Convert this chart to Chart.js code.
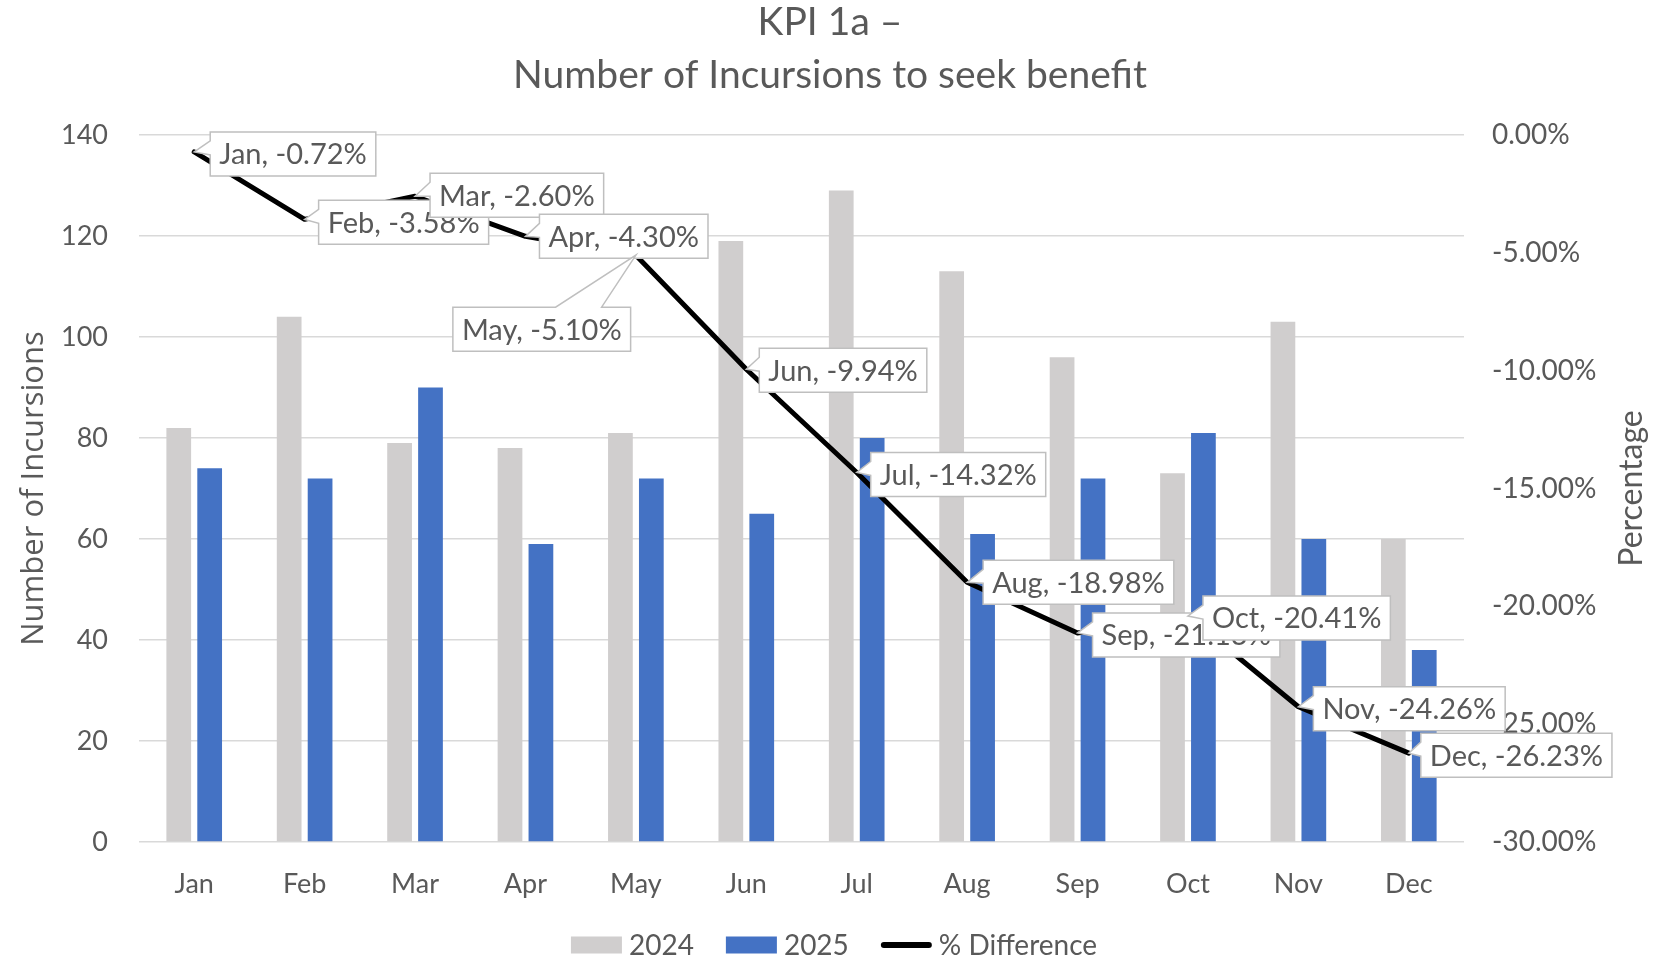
<!DOCTYPE html>
<html>
<head>
<meta charset="utf-8">
<script src="https://cdn.jsdelivr.net/npm/chart.js@4.4.1/dist/chart.umd.min.js"></script>
<style>
  html, body { margin: 0; padding: 0; background: #ffffff; }
  #wrap { width: 1675px; height: 960px; position: relative; }
  canvas { display: block; }
</style>
</head>
<body>
<div id="wrap"><canvas id="chart" width="1675" height="960"></canvas></div>
<script>
// ---------- DATA ----------
const months = ['Jan', 'Feb', 'Mar', 'Apr', 'May', 'Jun', 'Jul', 'Aug', 'Sep', 'Oct', 'Nov', 'Dec'];
const incursions2024 = [82, 104, 79, 78, 81, 119, 129, 113, 96, 73, 103, 60];
const incursions2025 = [74, 72, 90, 59, 72, 65, 80, 61, 72, 81, 60, 38];
const pctDifference = [-0.72, -3.58, -2.60, -4.30, -5.10, -9.94, -14.32, -18.98, -21.13, -20.41, -24.26, -26.23];
const leftAxisRange = [0, 140, 20];     // min, max, step
const rightAxisRange = [-30, 0, 5];     // min, max, step
const titleLines = ['KPI 1a \u2013', 'Number of Incursions to seek benefit'];
const seriesNames = ['2024', '2025', '% Difference'];
const leftAxisTitle = 'Number of Incursions';
const rightAxisTitle = 'Percentage';

// ---------- STYLE ----------
const TEXT = '#595959';
const GRID = '#d9d9d9';
const GREY = '#D0CECE';
const BLUE = '#4472C4';
const FONT = 'Lato';
// callout placement relative to the data point (side the pointer leaves from)
const labelPlacement = [
  {side: 'left', dx: 16, dy: 2}, {side: 'left', dx: 14, dy: 3}, {side: 'left', dx: 15, dy: -1},
  {side: 'left', dx: 14, dy: 0}, {side: 'top', dx: -183, dy: 74}, {side: 'left', dx: 13, dy: 1},
  {side: 'left', dx: 14, dy: 2}, {side: 'left', dx: 16, dy: 0}, {side: 'left', dx: 15, dy: 2},
  {side: 'left', dx: 15, dy: 2}, {side: 'left', dx: 15, dy: 2}, {side: 'left', dx: 12, dy: 2}
];

const decorPlugin = {
  id: 'decor',
  afterDatasetsDraw(chart) {
    const ctx = chart.ctx;
    const meta = chart.getDatasetMeta(2);
    ctx.save();
    ctx.font = '29px ' + FONT;
    const padX = 9, h = 44;
    meta.data.forEach((pt, i) => {
      const text = months[i] + ', ' + pctDifference[i].toFixed(2) + '%';
      const w = ctx.measureText(text).width + 2 * padX;
      const pl = labelPlacement[i];
      const left = pt.x + pl.dx;
      const top = pt.y + pl.dy - h / 2;
      ctx.beginPath();
      if (pl.side === 'left') {
        ctx.moveTo(left, top);
        ctx.lineTo(left + w, top);
        ctx.lineTo(left + w, top + h);
        ctx.lineTo(left, top + h);
        ctx.lineTo(left, top + h / 2 + 1);
        ctx.lineTo(pt.x, pt.y);
        ctx.lineTo(left, top + h / 2 - 13);
        ctx.closePath();
      } else {
        ctx.moveTo(left, top);
        ctx.lineTo(left + w - 75, top);
        ctx.lineTo(pt.x, pt.y);
        ctx.lineTo(left + w - 29, top);
        ctx.lineTo(left + w, top);
        ctx.lineTo(left + w, top + h);
        ctx.lineTo(left, top + h);
        ctx.closePath();
      }
      ctx.fillStyle = '#ffffff';
      ctx.fill();
      ctx.strokeStyle = '#bfbfbf';
      ctx.lineWidth = 1.5;
      ctx.stroke();
      ctx.fillStyle = TEXT;
      ctx.textBaseline = 'middle';
      ctx.textAlign = 'left';
      ctx.fillText(text, left + padX, top + h / 2 + 1);
    });
    ctx.restore();
  },
  afterDraw(chart) {
    const ctx = chart.ctx;
    const area = chart.chartArea;
    const cy = (area.top + area.bottom) / 2;
    ctx.save();
    ctx.fillStyle = TEXT;
    ctx.textAlign = 'center';
    ctx.textBaseline = 'middle';
    // title
    ctx.font = '39px ' + FONT;
    ctx.fillText(titleLines[0], 830, 22);
    ctx.fillText(titleLines[1], 830, 75);
    // axis titles
    ctx.save();
    ctx.font = '31px "Open Sans"';
    ctx.translate(34, cy);
    ctx.rotate(-Math.PI / 2);
    ctx.fillText(leftAxisTitle, 0, 0);
    ctx.restore();
    ctx.save();
    ctx.font = '32px ' + FONT;
    ctx.translate(1632, cy);
    ctx.rotate(-Math.PI / 2);
    ctx.fillText(rightAxisTitle, 0, 0);
    ctx.restore();
    // legend
    ctx.font = '28px ' + FONT;
    ctx.textAlign = 'left';
    const boxW = 51, boxH = 17, gapT = 7, gapItem = 32, ly = 945;
    const widths = seriesNames.map(s => ctx.measureText(s).width);
    const total = widths.reduce((a, b) => a + b, 0) + 3 * (boxW + gapT) + 2 * gapItem;
    let x = 834 - total / 2;
    const colors = [GREY, BLUE, '#000000'];
    seriesNames.forEach((s, i) => {
      if (i < 2) {
        ctx.fillStyle = colors[i];
        ctx.fillRect(x, ly - boxH / 2, boxW, boxH);
      } else {
        ctx.strokeStyle = '#000000';
        ctx.lineWidth = 6;
        ctx.lineCap = 'round';
        ctx.beginPath();
        ctx.moveTo(x + 3, ly);
        ctx.lineTo(x + boxW - 3, ly);
        ctx.stroke();
      }
      ctx.fillStyle = TEXT;
      ctx.fillText(s, x + boxW + gapT, ly + 1);
      x += boxW + gapT + widths[i] + gapItem;
    });
    ctx.restore();
  }
};

const tickFont = {family: FONT, size: 27};

new Chart(document.getElementById('chart'), {
  type: 'bar',
  data: {
    labels: months,
    datasets: [
      {label: seriesNames[0], data: incursions2024, backgroundColor: GREY, yAxisID: 'y', order: 1,
       categoryPercentage: 0.56, barPercentage: 0.8},
      {label: seriesNames[1], data: incursions2025, backgroundColor: BLUE, yAxisID: 'y', order: 1,
       categoryPercentage: 0.56, barPercentage: 0.8},
      {type: 'line', label: seriesNames[2], data: pctDifference, yAxisID: 'y1', order: 0,
       borderColor: '#000000', borderWidth: 5, pointRadius: 0, tension: 0,
       borderJoinStyle: 'round', borderCapStyle: 'round', fill: false}
    ]
  },
  options: {
    responsive: false,
    animation: false,
    events: [],
    layout: {padding: {top: 135, bottom: 0, left: 0, right: 0}},
    plugins: {legend: {display: false}, title: {display: false}, tooltip: {enabled: false}},
    scales: {
      x: {
        grid: {display: false, drawTicks: false},
        border: {display: false},
        ticks: {color: TEXT, font: tickFont, padding: 26},
        afterFit(s) { s.height = 118; s.paddingLeft = 0; s.paddingRight = 0; }
      },
      y: {
        position: 'left',
        min: leftAxisRange[0], max: leftAxisRange[1],
        ticks: {stepSize: leftAxisRange[2], color: TEXT, font: tickFont, padding: 31},
        grid: {color: GRID, lineWidth: 1.5, drawTicks: false},
        border: {display: false},
        afterFit(s) { s.width = 139; s.paddingTop = 0; s.paddingBottom = 0; }
      },
      y1: {
        position: 'right',
        min: rightAxisRange[0], max: rightAxisRange[1],
        ticks: {stepSize: rightAxisRange[2], color: TEXT, font: {family: FONT, size: 28}, padding: 28,
                callback: v => v.toFixed(2) + '%'},
        grid: {drawOnChartArea: false, drawTicks: false},
        border: {display: false},
        afterFit(s) { s.width = 211; s.paddingTop = 0; s.paddingBottom = 0; }
      }
    }
  },
  plugins: [decorPlugin]
});
</script>
</body>
</html>
